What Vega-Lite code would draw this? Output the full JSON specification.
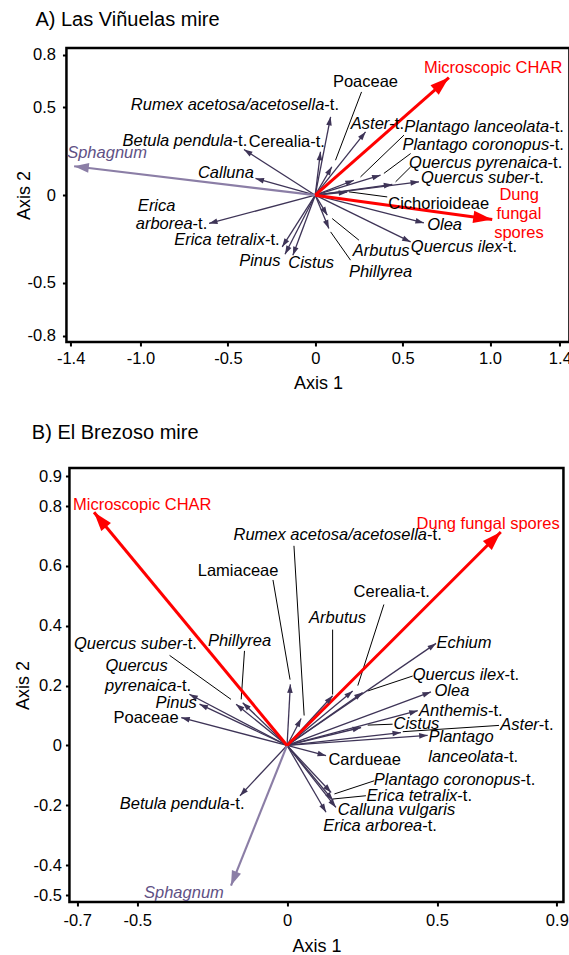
{
"$schema":"https://vega.github.io/schema/vega-lite/v6.json",
"background":"white",
"padding":{"left":13,"top":8,"right":0,"bottom":0},
"columns":1,
"center":true,
"spacing":27,
"config":{
 "view":{"stroke":"black","strokeWidth":2.5},
 "axis":{"grid":false,"domain":false,"ticks":true,"tickColor":"black","tickSize":4,"tickWidth":2,"labelFont":"Liberation Sans","labelFontSize":16.5,"labelColor":"black","labelPadding":3,"titleFont":"Liberation Sans","titleFontSize":18,"titleFontWeight":"normal","titleColor":"black","labelExpr":"datum.value == 0 ? '0' : replace(format(datum.value, '.1f'), '\u2212', '-')","labelOverlap":false,"labelFlush":false},
 "title":{"font":"Liberation Sans","fontSize":20,"fontWeight":"normal","anchor":"start","frame":"group","color":"black","baseline":"middle"},
 "text":{"font":"Liberation Sans","fontSize":16.5,"baseline":"middle"}
},
"datasets":{
 "arrA":[
  {"n":"Rumex acetosa/acetosella-t.","x":0.088,"y":0.446,"g":"d"},
  {"n":"Poaceae","x":0.095,"y":0.162,"g":"d"},
  {"n":"Cerealia-t.","x":0.030,"y":0.247,"g":"d"},
  {"n":"Aster-t.","x":0.288,"y":0.36,"g":"d"},
  {"n":"Plantago lanceolata-t.","x":0.221,"y":0.085,"g":"d"},
  {"n":"Plantago coronopus-t.","x":0.374,"y":0.114,"g":"d"},
  {"n":"Quercus pyrenaica-t.","x":0.441,"y":0.061,"g":"d"},
  {"n":"Quercus suber-t.","x":0.594,"y":0.076,"g":"d"},
  {"n":"Cichorioideae","x":0.183,"y":0.017,"g":"d"},
  {"n":"Olea","x":0.622,"y":-0.158,"g":"d"},
  {"n":"Quercus ilex-t.","x":0.546,"y":-0.266,"g":"d"},
  {"n":"Arbutus","x":0.069,"y":-0.114,"g":"d"},
  {"n":"Phillyrea","x":0.078,"y":-0.19,"g":"d"},
  {"n":"Cistus","x":-0.128,"y":-0.342,"g":"d"},
  {"n":"Pinus","x":-0.173,"y":-0.336,"g":"d"},
  {"n":"Erica tetralix-t.","x":-0.189,"y":-0.294,"g":"d"},
  {"n":"Erica arborea-t.","x":-0.608,"y":-0.161,"g":"d"},
  {"n":"Calluna","x":-0.342,"y":0.095,"g":"d"},
  {"n":"Betula pendula-t.","x":-0.408,"y":0.26,"g":"d"},
  {"n":"Sphagnum","x":-1.38,"y":0.165,"g":"s"},
  {"n":"Microscopic CHAR","x":0.765,"y":0.67,"g":"r"},
  {"n":"Dung fungal spores","x":1.013,"y":-0.138,"g":"r"}
 ],
 "labA":[
  {"it":"Rumex acetosa/acetosella","rm":"-t.","x":0.052,"y":0.513,"g":"k"},
  {"it":"","rm":"Poaceae","x":0.101,"y":0.642,"g":"k"},
  {"it":"Aster","rm":"-t.","x":0.424,"y":0.408,"g":"k"},
  {"it":"Plantago lanceolata","rm":"-t.","x":1.339,"y":0.386,"g":"k"},
  {"it":"Plantago coronopus","rm":"-t.","x":1.339,"y":0.285,"g":"k"},
  {"it":"Quercus pyrenaica","rm":"-t.","x":1.330,"y":0.181,"g":"k"},
  {"it":"Quercus suber","rm":"-t.","x":1.225,"y":0.095,"g":"k"},
  {"it":"","rm":"Cichorioideae","x":0.418,"y":-0.051,"g":"k"},
  {"it":"","rm":"Dung","x":1.054,"y":0.0,"g":"r"},
  {"it":"","rm":"fungal","x":1.037,"y":-0.108,"g":"r"},
  {"it":"","rm":"spores","x":1.024,"y":-0.215,"g":"r"},
  {"it":"Olea","rm":"","x":0.840,"y":-0.171,"g":"k"},
  {"it":"Quercus ilex","rm":"-t.","x":1.072,"y":-0.294,"g":"k"},
  {"it":"Arbutus","rm":"","x":0.540,"y":-0.317,"g":"k"},
  {"it":"Phillyrea","rm":"","x":0.555,"y":-0.437,"g":"k"},
  {"it":"Cistus","rm":"","x":0.108,"y":-0.387,"g":"k"},
  {"it":"Pinus","rm":"","x":-0.199,"y":-0.376,"g":"k"},
  {"it":"Erica tetralix","rm":"-t.","x":-0.288,"y":-0.256,"g":"k"},
  {"it":"Erica","rm":"","x":-0.80,"y":-0.063,"g":"k"},
  {"it":"arborea","rm":"-t.","x":-0.702,"y":-0.165,"g":"k"},
  {"it":"Calluna","rm":"","x":-0.351,"y":0.124,"g":"k"},
  {"it":"Betula pendula","rm":"-t.","x":-0.473,"y":0.308,"g":"k"},
  {"it":"","rm":"Cerealia-t.","x":-0.380,"y":0.304,"g":"k"},
  {"it":"Sphagnum","rm":"","x":-0.963,"y":0.241,"g":"p"},
  {"it":"","rm":"Microscopic CHAR","x":0.622,"y":0.722,"g":"r"}
 ],
 "leadA":[
  {"x":0.265,"y":0.588,"x2":0.116,"y2":0.199},
  {"x":0.508,"y":0.342,"x2":0.259,"y2":0.104},
  {"x":0.546,"y":0.237,"x2":0.393,"y2":0.124},
  {"x":0.546,"y":0.161,"x2":0.460,"y2":0.076},
  {"x":0.412,"y":-0.01,"x2":0.193,"y2":0.019},
  {"x":0.250,"y":-0.256,"x2":0.097,"y2":-0.133},
  {"x":0.202,"y":-0.370,"x2":0.088,"y2":-0.209}
 ],
 "arrB":[
  {"n":"Lamiaceae","x":0.011,"y":0.204,"g":"d"},
  {"n":"Rumex acetosa/acetosella-t.","x":0.047,"y":0.09,"g":"d"},
  {"n":"Arbutus","x":0.152,"y":0.166,"g":"d"},
  {"n":"Cerealia-t.","x":0.219,"y":0.182,"g":"d"},
  {"n":"Quercus ilex-t.","x":0.252,"y":0.177,"g":"d"},
  {"n":"Echium","x":0.497,"y":0.341,"g":"d"},
  {"n":"Olea","x":0.48,"y":0.179,"g":"d"},
  {"n":"Anthemis-t.","x":0.436,"y":0.116,"g":"d"},
  {"n":"Cistus","x":0.247,"y":0.06,"g":"d"},
  {"n":"Aster-t.","x":0.38,"y":0.043,"g":"d"},
  {"n":"Plantago lanceolata-t.","x":0.469,"y":0.034,"g":"d"},
  {"n":"Cardueae","x":0.13,"y":-0.034,"g":"d"},
  {"n":"Plantago coronopus-t.","x":0.147,"y":-0.157,"g":"d"},
  {"n":"Erica tetralix-t.","x":0.153,"y":-0.183,"g":"d"},
  {"n":"Calluna vulgaris","x":0.163,"y":-0.207,"g":"d"},
  {"n":"Erica arborea-t.","x":0.13,"y":-0.223,"g":"d"},
  {"n":"Betula pendula-t.","x":-0.157,"y":-0.168,"g":"d"},
  {"n":"Quercus suber-t.","x":-0.17,"y":0.138,"g":"d"},
  {"n":"Phillyrea","x":-0.148,"y":0.143,"g":"d"},
  {"n":"Quercus pyrenaica-t.","x":-0.326,"y":0.171,"g":"d"},
  {"n":"Pinus","x":-0.292,"y":0.138,"g":"d"},
  {"n":"Poaceae","x":-0.353,"y":0.093,"g":"d"},
  {"n":"Sphagnum","x":-0.187,"y":-0.468,"g":"s"},
  {"n":"Microscopic CHAR","x":-0.644,"y":0.779,"g":"r"},
  {"n":"Dung fungal spores","x":0.713,"y":0.713,"g":"r"}
 ],
 "labB":[
  {"it":"","rm":"Microscopic CHAR","x":-0.714,"y":0.804,"g":"r"},
  {"it":"","rm":"Dung fungal spores","x":0.432,"y":0.741,"g":"r"},
  {"it":"Rumex acetosa/acetosella","rm":"-t.","x":0.467,"y":0.704,"g":"k"},
  {"it":"","rm":"Lamiaceae","x":-0.298,"y":0.584,"g":"k"},
  {"it":"","rm":"Cerealia-t.","x":0.222,"y":0.512,"g":"k"},
  {"it":"Arbutus","rm":"","x":0.263,"y":0.427,"g":"k"},
  {"it":"Echium","rm":"","x":0.682,"y":0.341,"g":"k"},
  {"it":"Quercus ilex","rm":"-t.","x":0.725,"y":0.234,"g":"k"},
  {"it":"Olea","rm":"","x":0.608,"y":0.182,"g":"k"},
  {"it":"Anthemis","rm":"-t.","x":0.670,"y":0.116,"g":"k"},
  {"it":"Cistus","rm":"","x":0.508,"y":0.071,"g":"k"},
  {"it":"Aster","rm":"-t.","x":0.84,"y":0.068,"g":"k"},
  {"it":"Plantago","rm":"","x":0.689,"y":0.027,"g":"k"},
  {"it":"lanceolata","rm":"-t.","x":0.722,"y":-0.04,"g":"k"},
  {"it":"","rm":"Cardueae","x":0.138,"y":-0.048,"g":"k"},
  {"it":"Plantago coronopus","rm":"-t.","x":0.779,"y":-0.116,"g":"k"},
  {"it":"Erica tetralix","rm":"-t.","x":0.568,"y":-0.17,"g":"k"},
  {"it":"Calluna vulgaris","rm":"","x":0.561,"y":-0.216,"g":"k"},
  {"it":"Erica arborea","rm":"-t.","x":0.451,"y":-0.27,"g":"k"},
  {"it":"Betula pendula","rm":"-t.","x":-0.191,"y":-0.196,"g":"k"},
  {"it":"Sphagnum","rm":"","x":-0.211,"y":-0.492,"g":"p"},
  {"it":"Quercus suber","rm":"-t.","x":-0.35,"y":0.338,"g":"k"},
  {"it":"Quercus","rm":"","x":-0.398,"y":0.266,"g":"k"},
  {"it":"pyrenaica","rm":"-t.","x":-0.369,"y":0.199,"g":"k"},
  {"it":"Pinus","rm":"","x":-0.301,"y":0.143,"g":"k"},
  {"it":"","rm":"Poaceae","x":-0.579,"y":0.093,"g":"k"},
  {"it":"Phillyrea","rm":"","x":-0.053,"y":0.349,"g":"k"}
 ],
 "leadB":[
  {"x":-0.047,"y":0.553,"x2":0.01,"y2":0.22},
  {"x":0.023,"y":0.667,"x2":0.057,"y2":0.1},
  {"x":0.152,"y":0.387,"x2":0.152,"y2":0.17},
  {"x":0.323,"y":0.471,"x2":0.236,"y2":0.2},
  {"x":0.419,"y":0.232,"x2":0.269,"y2":0.182},
  {"x":-0.392,"y":0.301,"x2":-0.187,"y2":0.154},
  {"x":-0.142,"y":0.316,"x2":-0.153,"y2":0.154},
  {"x":0.352,"y":0.071,"x2":0.269,"y2":0.068},
  {"x":0.707,"y":0.067,"x2":0.386,"y2":0.046},
  {"x":0.291,"y":-0.118,"x2":0.158,"y2":-0.162},
  {"x":0.263,"y":-0.168,"x2":0.152,"y2":-0.179}
 ]
},
"concat":[
 {
  "title":{"text":"A) Las Viñuelas mire","dx":-31,"offset":17},
  "width":503,"height":294,
  "layer":[
   {"mark":{"type":"rule","color":"black","strokeWidth":1,"strokeDash":[1.5,2.5]},
    "encoding":{"x":{"datum":0,"type":"quantitative","title":"Axis 1","scale":{"domain":[-1.424,1.455],"nice":false,"zero":false},"axis":{"values":[-1.4,-1,-0.5,0,0.5,1,1.4],"labelPadding":4,"titlePadding":8}}}},
   {"mark":{"type":"rule","color":"black","strokeWidth":1,"strokeDash":[1.5,2.5]},
    "encoding":{"y":{"datum":0,"type":"quantitative","title":"Axis 2","scale":{"domain":[-0.836,0.838],"nice":false,"zero":false},"axis":{"values":[-0.8,-0.5,0,0.5,0.8],"labelPadding":7,"titleX":-33}}}},
   {"data":{"name":"leadA"},"mark":{"type":"rule","color":"black","strokeWidth":1},
    "encoding":{"x":{"field":"x","type":"quantitative","title":"Axis 1"},"y":{"field":"y","type":"quantitative","title":"Axis 2"},"x2":{"field":"x2"},"y2":{"field":"y2"}}},
   {"data":{"name":"arrA"},"mark":{"type":"rule"},
    "encoding":{"x":{"field":"x","type":"quantitative","title":"Axis 1"},"y":{"field":"y","type":"quantitative","title":"Axis 2"},"x2":{"datum":0},"y2":{"datum":0},
     "color":{"field":"g","type":"nominal","legend":null,"scale":{"domain":["d","s","r","k","p"],"range":["#3e3457","#8b7ea6","#ff0000","#000000","#5f5185"]}},
     "strokeWidth":{"field":"g","type":"ordinal","legend":null,"scale":{"domain":["d","s","r"],"range":[1.3,3,2.5]}}}},
   {"data":{"name":"arrA"},"transform":[{"calculate":"90 - atan2(datum.y, datum.x) * 180 / PI","as":"a"}],
    "mark":{"type":"point","shape":"M0,0L-0.33,1L0.33,1Z","filled":true,"opacity":1,"strokeWidth":0},
    "encoding":{"x":{"field":"x","type":"quantitative","title":"Axis 1"},"y":{"field":"y","type":"quantitative","title":"Axis 2"},
     "color":{"field":"g","type":"nominal","legend":null,"scale":{"domain":["d","s","r","k","p"],"range":["#3e3457","#8b7ea6","#ff0000","#000000","#5f5185"]}},
     "size":{"field":"g","type":"ordinal","legend":null,"scale":{"domain":["d","s","r"],"range":[289,1444,1444]}},
     "angle":{"field":"a","type":"quantitative","scale":null}}},
   {"data":{"name":"labA"},"mark":{"type":"text","fontStyle":"italic","align":"right"},
    "encoding":{"x":{"field":"x","type":"quantitative","title":"Axis 1"},"y":{"field":"y","type":"quantitative","title":"Axis 2"},"text":{"field":"it"},
     "color":{"field":"g","type":"nominal","legend":null,"scale":{"domain":["d","s","r","k","p"],"range":["#3e3457","#8b7ea6","#ff0000","#000000","#5f5185"]}}}},
   {"data":{"name":"labA"},"mark":{"type":"text","align":"left"},
    "encoding":{"x":{"field":"x","type":"quantitative","title":"Axis 1"},"y":{"field":"y","type":"quantitative","title":"Axis 2"},"text":{"field":"rm"},
     "color":{"field":"g","type":"nominal","legend":null,"scale":{"domain":["d","s","r","k","p"],"range":["#3e3457","#8b7ea6","#ff0000","#000000","#5f5185"]}}}}
  ]
 },
 {
  "title":{"text":"B) El Brezoso mire","dx":-37.6,"offset":25},
  "width":494,"height":434,
  "layer":[
   {"mark":{"type":"rule","color":"black","strokeWidth":1,"strokeDash":[1.5,2.5]},
    "encoding":{"x":{"datum":0,"type":"quantitative","title":"Axis 1","scale":{"domain":[-0.726,0.922],"nice":false,"zero":false},"axis":{"values":[-0.7,-0.5,0,0.5,0.9],"labelPadding":6,"titlePadding":9}}}},
   {"mark":{"type":"rule","color":"black","strokeWidth":1,"strokeDash":[1.5,2.5]},
    "encoding":{"y":{"datum":0,"type":"quantitative","title":"Axis 2","scale":{"domain":[-0.523,0.927],"nice":false,"zero":false},"axis":{"values":[-0.5,-0.4,-0.2,0,0.2,0.4,0.6,0.8,0.9],"labelPadding":4,"titleX":-37}}}},
   {"data":{"name":"leadB"},"mark":{"type":"rule","color":"black","strokeWidth":1},
    "encoding":{"x":{"field":"x","type":"quantitative","title":"Axis 1"},"y":{"field":"y","type":"quantitative","title":"Axis 2"},"x2":{"field":"x2"},"y2":{"field":"y2"}}},
   {"data":{"name":"arrB"},"mark":{"type":"rule"},
    "encoding":{"x":{"field":"x","type":"quantitative","title":"Axis 1"},"y":{"field":"y","type":"quantitative","title":"Axis 2"},"x2":{"datum":0},"y2":{"datum":0},
     "color":{"field":"g","type":"nominal","legend":null,"scale":{"domain":["d","s","r","k","p"],"range":["#3e3457","#8b7ea6","#ff0000","#000000","#5f5185"]}},
     "strokeWidth":{"field":"g","type":"ordinal","legend":null,"scale":{"domain":["d","s","r"],"range":[1.3,3,2.5]}}}},
   {"data":{"name":"arrB"},"transform":[{"calculate":"90 - atan2(datum.y, datum.x) * 180 / PI","as":"a"}],
    "mark":{"type":"point","shape":"M0,0L-0.33,1L0.33,1Z","filled":true,"opacity":1,"strokeWidth":0},
    "encoding":{"x":{"field":"x","type":"quantitative","title":"Axis 1"},"y":{"field":"y","type":"quantitative","title":"Axis 2"},
     "color":{"field":"g","type":"nominal","legend":null,"scale":{"domain":["d","s","r","k","p"],"range":["#3e3457","#8b7ea6","#ff0000","#000000","#5f5185"]}},
     "size":{"field":"g","type":"ordinal","legend":null,"scale":{"domain":["d","s","r"],"range":[289,1444,1444]}},
     "angle":{"field":"a","type":"quantitative","scale":null}}},
   {"data":{"name":"labB"},"mark":{"type":"text","fontStyle":"italic","align":"right"},
    "encoding":{"x":{"field":"x","type":"quantitative","title":"Axis 1"},"y":{"field":"y","type":"quantitative","title":"Axis 2"},"text":{"field":"it"},
     "color":{"field":"g","type":"nominal","legend":null,"scale":{"domain":["d","s","r","k","p"],"range":["#3e3457","#8b7ea6","#ff0000","#000000","#5f5185"]}}}},
   {"data":{"name":"labB"},"mark":{"type":"text","align":"left"},
    "encoding":{"x":{"field":"x","type":"quantitative","title":"Axis 1"},"y":{"field":"y","type":"quantitative","title":"Axis 2"},"text":{"field":"rm"},
     "color":{"field":"g","type":"nominal","legend":null,"scale":{"domain":["d","s","r","k","p"],"range":["#3e3457","#8b7ea6","#ff0000","#000000","#5f5185"]}}}}
  ]
 }
]
}
